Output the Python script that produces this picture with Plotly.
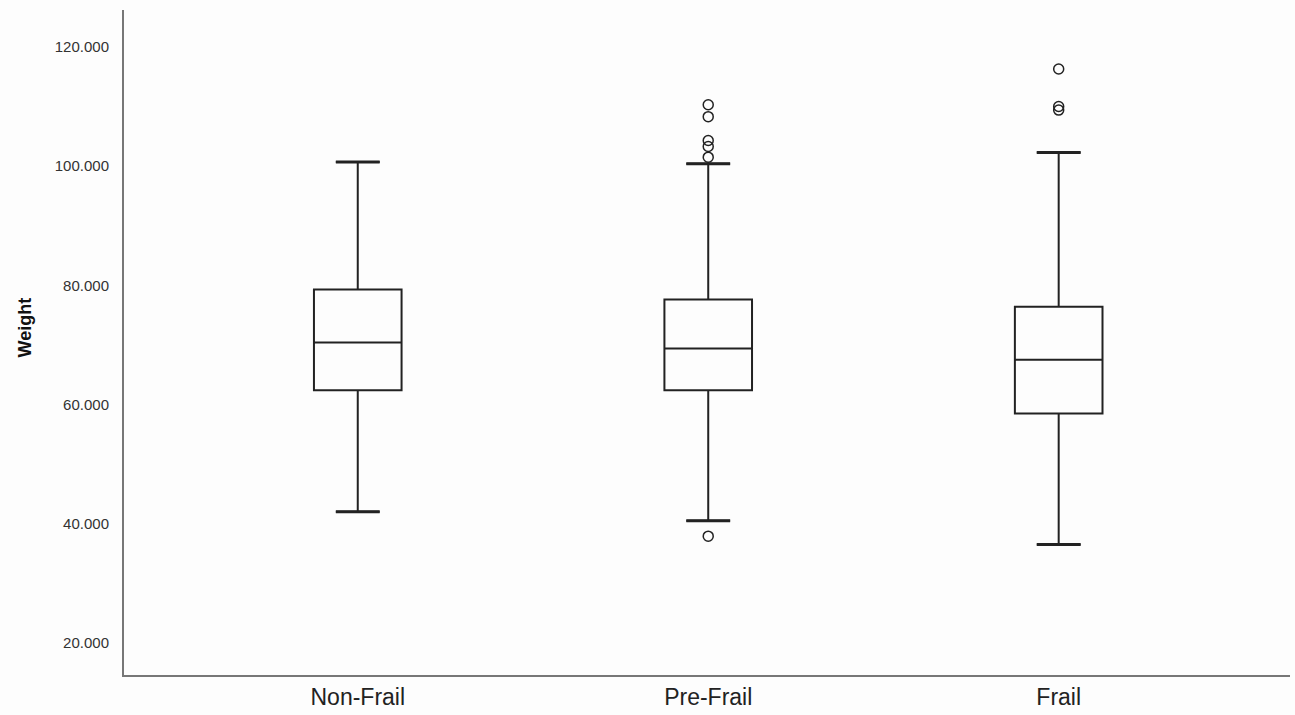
import plotly.graph_objects as go

# Weight summary by frailty group (box statistics)
groups = ["Non-Frail", "Pre-Frail", "Frail"]
lower_whisker = [42.0, 40.5, 36.5]
q1 = [62.4, 62.4, 58.5]
median = [70.4, 69.4, 67.5]
q3 = [79.3, 77.6, 76.4]
upper_whisker = [100.7, 100.4, 102.3]

# Outlying observations per group
outliers = {
    "Non-Frail": [],
    "Pre-Frail": [110.3, 108.3, 104.3, 103.3, 101.5, 37.9],
    "Frail": [116.3, 110.0, 109.4],
}

y_ticks = [20, 40, 60, 80, 100, 120]
positions = list(range(len(groups)))
INK = "#222222"

fig = go.Figure()

fig.add_trace(go.Box(
    x=positions,
    q1=q1,
    median=median,
    q3=q3,
    lowerfence=lower_whisker,
    upperfence=upper_whisker,
    width=0.25,
    whiskerwidth=0.5,
    fillcolor="rgba(0,0,0,0)",
    line=dict(color=INK, width=2),
    boxpoints=False,
    hoverinfo="skip",
    showlegend=False,
))

# Heavier whisker caps
for i in positions:
    for v in (lower_whisker[i], upper_whisker[i]):
        fig.add_trace(go.Scatter(
            x=[i - 0.0625, i + 0.0625], y=[v, v],
            mode="lines", line=dict(color=INK, width=3),
            showlegend=False, hoverinfo="skip",
        ))

for i, g in enumerate(groups):
    vals = outliers[g]
    if not vals:
        continue
    fig.add_trace(go.Scatter(
        x=[i] * len(vals), y=vals,
        mode="markers",
        marker=dict(symbol="circle-open", size=10, color=INK,
                    line=dict(width=1.5, color=INK)),
        showlegend=False, hoverinfo="skip",
    ))

fig.update_layout(
    width=1295, height=715,
    margin=dict(l=124, r=5, t=10, b=40),
    paper_bgcolor="#fdfdfd",
    plot_bgcolor="#fdfdfd",
    font=dict(family="Liberation Sans, Arial, sans-serif", color=INK),
    annotations=[dict(
        text="<b>Weight</b>", xref="paper", yref="paper",
        x=-0.085, y=0.5 + (342 - 327) / 665, textangle=-90,
        showarrow=False, font=dict(size=18, color="#111111"),
        xanchor="center", yanchor="middle",
    )],
)

fig.update_xaxes(
    type="linear",
    range=[-0.667, 2.66],
    tickvals=positions,
    ticktext=groups,
    tickfont=dict(size=23, color=INK),
    showgrid=False, zeroline=False,
    showline=True, linecolor="#777777", linewidth=2,
    ticks="", ticklabelstandoff=0,
    automargin=False,
)

fig.update_yaxes(
    range=[14.6, 126.2],
    tickvals=y_ticks,
    tickformat=".3f",
    tickfont=dict(size=15, color="#333333"),
    showgrid=False, zeroline=False,
    showline=True, linecolor="#777777", linewidth=2,
    ticks="", ticklabelstandoff=10,
    automargin=False,
)

fig.write_html("out.html")
